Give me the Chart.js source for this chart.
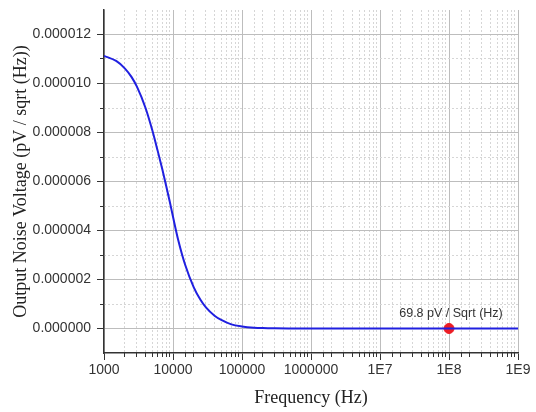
<!DOCTYPE html>
<html>
<head>
<meta charset="utf-8">
<script src="https://cdn.jsdelivr.net/npm/chart.js@4"></script>
<style>
  html, body { margin: 0; padding: 0; background: #fff; }
  #wrap { width: 536px; height: 412px; }
</style>
</head>
<body>
<div id="wrap"><canvas id="noiseChart" width="536" height="412"></canvas></div>
<script>
// frequency (Hz) vs output noise
const freqs = [1000, 1500, 2000, 2500, 3000, 4000, 5000, 6000, 7000, 8000, 9000, 10000, 12000, 15000,
  20000, 25000, 30000, 40000, 50000, 70000, 100000, 150000, 200000, 300000, 500000, 1e6, 1e7, 1e8, 1e9];
const noise = [11.13e-6, 10.92e-6, 10.62e-6, 10.27e-6, 9.87e-6, 9.0e-6, 8.1e-6, 7.25e-6, 6.5e-6, 5.8e-6, 5.16e-6, 4.56e-6, 3.57e-6, 2.6e-6,
  1.68e-6, 1.17e-6, 0.86e-6, 0.52e-6, 0.35e-6, 0.17e-6, 0.085e-6, 0.035e-6, 0.018e-6, 0.007e-6, 0.002e-6, 0.0007e-6, 0.00008e-6, 0.0000698e-6, 0.00007e-6];
const markerFreq = [1e8];
const markerValue = [6.98e-11];
const markerLabel = '69.8 pV / Sqrt (Hz)';
const xTickLabels = { 3: '1000', 4: '10000', 5: '100000', 6: '1000000', 7: '1E7', 8: '1E8', 9: '1E9' };

const isDecade = (v) => Math.abs(Math.log10(v) - Math.round(Math.log10(v))) < 1e-9;
const microUnits = (v) => Math.round(v * 1e6);
const labelFont = { family: '"Liberation Sans", Arial, sans-serif', size: 14 };
const titleFont = { family: '"Liberation Serif", "Times New Roman", serif', size: 18 };

const markerText = {
  id: 'markerText',
  afterDatasetsDraw(chart) {
    const pt = chart.getDatasetMeta(1).data[0];
    const ctx = chart.ctx;
    ctx.save();
    ctx.font = '12.5px "Liberation Sans", Arial, sans-serif';
    ctx.fillStyle = '#333';
    ctx.textAlign = 'center';
    ctx.textBaseline = 'middle';
    ctx.fillText(markerLabel, pt.x + 2, pt.y - 15);
    ctx.restore();
  }
};

new Chart(document.getElementById('noiseChart'), {
  type: 'line',
  data: {
    datasets: [
      {
        data: freqs.map((f, i) => ({ x: f, y: noise[i] })),
        borderColor: '#2020e0',
        borderWidth: 2,
        pointRadius: 0,
        cubicInterpolationMode: 'monotone',
        fill: false
      },
      {
        data: markerFreq.map((f, i) => ({ x: f, y: markerValue[i] })),
        showLine: false,
        pointRadius: 5,
        pointBackgroundColor: '#ec1c24',
        pointBorderColor: '#ec1c24'
      }
    ]
  },
  options: {
    responsive: false,
    animation: false,
    layout: { padding: { left: 0, right: 18, top: 10, bottom: 0 } },
    plugins: { legend: { display: false }, tooltip: { enabled: false } },
    scales: {
      xMinor: {
        type: 'logarithmic',
        position: 'bottom',
        weight: -1,
        min: 1000,
        max: 1e9,
        afterFit: (s) => { s.height = 0; },
        afterBuildTicks: (s) => { s.ticks = s.ticks.filter((t) => !isDecade(t.value)); },
        grid: { color: '#d6d6d6', tickColor: '#333', tickLength: 4 },
        border: { display: false, dash: [2, 2] },
        ticks: { display: false, autoSkip: false }
      },
      x: {
        type: 'logarithmic',
        min: 1000,
        max: 1e9,
        afterFit: (s) => { s.height = 59; },
        afterBuildTicks: (s) => { s.ticks = s.ticks.filter((t) => isDecade(t.value)); },
        grid: { color: '#bdbdbd', tickColor: '#333', tickLength: 7 },
        border: { color: '#333', width: 1.5 },
        ticks: {
          autoSkip: false,
          maxRotation: 0,
          padding: 2,
          color: '#333',
          font: labelFont,
          callback: (v) => xTickLabels[Math.round(Math.log10(v))] || ''
        },
        title: {
          display: true,
          text: 'Frequency (Hz)',
          color: '#222',
          font: titleFont,
          padding: { top: 0, bottom: 3 }
        }
      },
      yMinor: {
        position: 'left',
        weight: -1,
        min: -1e-6,
        max: 1.3e-5,
        afterFit: (s) => { s.width = 0; s.paddingTop = 0; s.paddingBottom = 0; },
        afterBuildTicks: (s) => {
          s.ticks = s.ticks.filter((t) => { const n = microUnits(t.value); return n % 2 !== 0 && n > -1 && n < 13; });
        },
        grid: { color: '#d6d6d6', tickColor: '#333', tickLength: 4 },
        border: { display: false, dash: [2, 2] },
        ticks: { display: false, stepSize: 1e-6, autoSkip: false }
      },
      y: {
        min: -1e-6,
        max: 1.3e-5,
        afterFit: (s) => { s.width = 104; s.paddingTop = 0; s.paddingBottom = 0; },
        afterBuildTicks: (s) => {
          s.ticks = s.ticks.filter((t) => { const n = microUnits(t.value); return n % 2 === 0 && n >= 0; });
        },
        grid: { color: '#bdbdbd', tickColor: '#333', tickLength: 7 },
        border: { color: '#333', width: 1.5 },
        ticks: {
          stepSize: 1e-6,
          autoSkip: false,
          padding: 6,
          color: '#333',
          font: labelFont,
          callback: (v) => (microUnits(v) * 1e-6).toFixed(6)
        },
        title: {
          display: true,
          text: 'Output Noise Voltage (pV / sqrt (Hz))',
          color: '#222',
          font: titleFont,
          padding: { top: 10, bottom: 0 }
        }
      }
    }
  },
  plugins: [markerText]
});
</script>
</body>
</html>
